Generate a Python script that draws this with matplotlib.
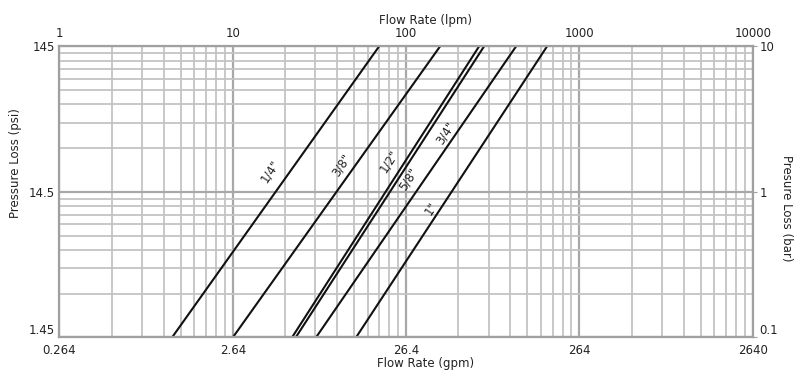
import matplotlib
matplotlib.use("Agg")
import matplotlib.pyplot as plt
from matplotlib.ticker import FixedLocator, NullFormatter, NullLocator

# donnees : debit (lpm) a 0.1 bar et a 10 bar
sizes = ['1/4"', '3/8"', '1/2"', '5/8"', '3/4"', '1"']
pressure_bar = [0.1, 10]
flow_low = [4.46, 10.0, 21.96, 23.07, 30.2, 51.4]
flow_high = [69.8, 156.9, 263.5, 281.5, 430.7, 650.0]

lpm_ticks = [1, 10, 100, 1000, 10000]
gpm_ticks = [0.264, 2.64, 26.4, 264, 2640]
bar_ticks = [0.1, 1, 10]
psi_ticks = [1.45, 14.5, 145]
lpm_par_gpm = 1 / 0.264   # conversion utilisee par le graphe

# position des etiquettes (lpm, bar)
label_pos = [(16.4, 1.39), (42.7, 1.53), (79.7, 1.63), (102.6, 1.23), (169.9, 2.54), (139.2, 0.764)]

fs = 8.5
txt = '#222222'

fig = plt.figure(figsize=(7.96, 3.71), dpi=100)
ax = fig.add_axes([0.0747, 0.0903, 0.8709, 0.7844])
ax.set_xscale('log')
ax.set_yscale('log')
ax.set_xlim(1, 10000)
ax.set_ylim(0.1, 10)

# grille
ax.grid(True, which='minor', color='#c4c4c4', lw=1.3)
ax.grid(True, which='major', color='#a8a8a8', lw=1.6)
ax.set_axisbelow(True)
for s in ax.spines.values():
    s.set_color('#a0a0a0')
    s.set_linewidth(1.6)

# courbes
for i in range(len(sizes)):
    ax.plot([flow_low[i], flow_high[i]], pressure_bar, color='#111111', lw=1.5)
    ax.text(label_pos[i][0], label_pos[i][1], sizes[i], rotation=57, fontsize=fs,
            ha='center', va='center', color=txt, rotation_mode='anchor')

# axe du haut (lpm) et de droite (bar)
ax.xaxis.tick_top()
ax.yaxis.tick_right()
ax.xaxis.set_major_locator(FixedLocator(lpm_ticks))
ax.set_xticklabels([str(v) for v in lpm_ticks])
ax.xaxis.set_minor_formatter(NullFormatter())
ax.yaxis.set_major_locator(FixedLocator(bar_ticks))
ax.set_yticklabels(['0.1', '1', '10'])
ax.yaxis.set_minor_formatter(NullFormatter())
ax.tick_params(axis='x', which='major', length=0, pad=5, labelsize=fs, labelcolor=txt)
ax.tick_params(axis='y', which='major', length=3, color='#a0a0a0', pad=2, labelsize=fs, labelcolor=txt)
ax.tick_params(which='minor', length=0)
ax.get_yticklabels()[0].set_va('bottom')

# axe du bas (gpm)
bx = ax.secondary_xaxis('bottom', functions=(lambda q: q / lpm_par_gpm, lambda q: q * lpm_par_gpm))
bx.xaxis.set_major_locator(FixedLocator(gpm_ticks))
bx.xaxis.set_minor_locator(NullLocator())
bx.set_xticklabels(['0.264', '2.64', '26.4', '264', '2640'])
bx.tick_params(length=0, pad=5, labelsize=fs, labelcolor=txt)
bx.spines['bottom'].set_visible(False)

# axe de gauche (psi)
ly = ax.secondary_yaxis('left', functions=(lambda p: p * 14.5, lambda p: p / 14.5))
ly.yaxis.set_major_locator(FixedLocator(psi_ticks))
ly.yaxis.set_minor_locator(NullLocator())
ly.set_yticklabels(['1.45', '14.5', '145'])
ly.tick_params(length=0, pad=3, labelsize=fs, labelcolor=txt)
ly.spines['left'].set_visible(False)
ly.get_yticklabels()[0].set_va('bottom')

# titres des axes
fig.text(0.534, 0.945, 'Flow Rate (lpm)', fontsize=fs, color=txt, ha='center', va='center')
fig.text(0.534, 0.019, 'Flow Rate (gpm)', fontsize=fs, color=txt, ha='center', va='center')
fig.text(0.019, 0.56, 'Pressure Loss (psi)', rotation=90, fontsize=fs, color=txt,
         ha='center', va='center')
fig.text(0.988, 0.44, 'Presure Loss (bar)', rotation=270, fontsize=fs, color=txt,
         ha='center', va='center')

fig.savefig('out.png', dpi=100)
